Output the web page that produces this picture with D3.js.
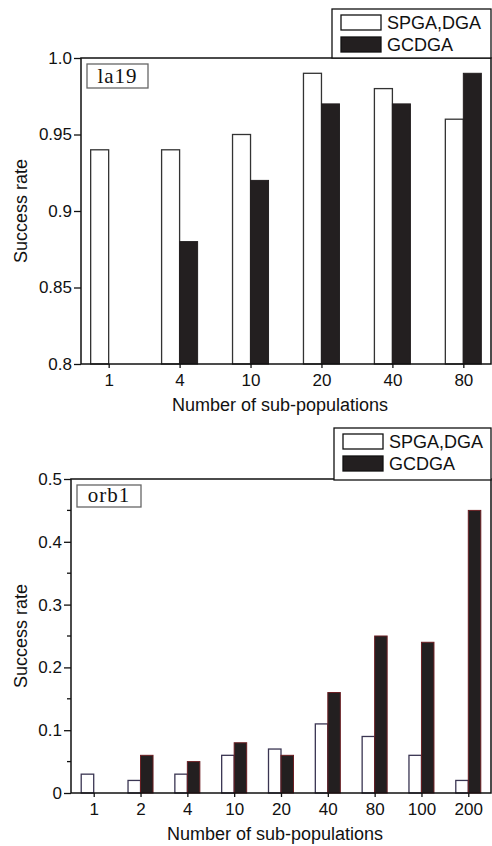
<!DOCTYPE html>
<html>
<head>
<meta charset="utf-8">
<script src="https://cdn.jsdelivr.net/npm/d3@7"></script>
<style>
  body { margin: 0; background: #fff; }
  svg text { font-family: "Liberation Sans", Arial, sans-serif; fill: #111; }
  svg text.tag { font-family: "Liberation Serif", "Times New Roman", serif; }
</style>
</head>
<body>
<div id="chart"></div>
<script>
// Two success-rate bar charts (la19, orb1)
const SERIES = ["SPGA,DGA", "GCDGA"];

const la19Cats = ["1", "4", "10", "20", "40", "80"];
const la19Spga = [0.94, 0.94, 0.95, 0.99, 0.98, 0.96];
const la19Gcdga = [null, 0.88, 0.92, 0.97, 0.97, 0.99];
const la19Ticks = [0.8, 0.85, 0.9, 0.95, 1.0];
const la19TickLabels = ["0.8", "0.85", "0.9", "0.95", "1.0"];

const orb1Cats = ["1", "2", "4", "10", "20", "40", "80", "100", "200"];
const orb1Spga = [0.03, 0.02, 0.03, 0.06, 0.07, 0.11, 0.09, 0.06, 0.02];
const orb1Gcdga = [null, 0.06, 0.05, 0.08, 0.06, 0.16, 0.25, 0.24, 0.45];
const orb1Ticks = [0, 0.1, 0.2, 0.3, 0.4, 0.5];
const orb1TickLabels = ["0", "0.1", "0.2", "0.3", "0.4", "0.5"];
const orb1Minor = [0.05, 0.15, 0.25, 0.35, 0.45];

const W = 492, H = 846;
const svg = d3.select("#chart").append("svg").attr("width", W).attr("height", H);

function panel(o) {
  const g = svg.append("g");
  const x = d3.scalePoint().domain(o.cats).range([o.left, o.right]).padding(o.pad);
  const y = d3.scaleLinear().domain(o.domain).range([o.bottom, o.top]);
  const bw = o.barW;

  // bars
  g.selectAll(".a").data(o.cats.map((c, i) => ({ c, v: o.a[i] })).filter(d => d.v != null))
    .join("rect")
    .attr("x", d => x(d.c) - bw).attr("y", d => y(d.v))
    .attr("width", bw).attr("height", d => y(o.domain[0]) - y(d.v))
    .attr("fill", "#fff").attr("stroke", o.aStroke).attr("stroke-width", 1.3);
  g.selectAll(".b").data(o.cats.map((c, i) => ({ c, v: o.b[i] })).filter(d => d.v != null))
    .join("rect")
    .attr("x", d => x(d.c)).attr("y", d => y(d.v))
    .attr("width", bw).attr("height", d => y(o.domain[0]) - y(d.v))
    .attr("fill", "#231f20").attr("stroke", o.bStroke).attr("stroke-width", 1);

  // frame
  g.append("rect").attr("x", o.left).attr("y", o.top)
    .attr("width", o.right - o.left).attr("height", o.bottom - o.top)
    .attr("fill", "none").attr("stroke", "#111").attr("stroke-width", 1.5);

  // y axis
  const ya = g.append("g").attr("transform", `translate(${o.left},0)`)
    .call(d3.axisLeft(y).tickValues(o.ticks).tickSize(7).tickPadding(2)
      .tickFormat((d, i) => o.tickLabels[i]));
  ya.select(".domain").remove();
  ya.selectAll("line").attr("stroke", "#111").attr("stroke-width", 1.3);
  ya.selectAll("text").attr("font-size", 17).attr("fill", "#111");
  if (o.minor) {
    g.selectAll(".minor").data(o.minor).join("line")
      .attr("x1", o.left - 4).attr("x2", o.left).attr("y1", d => y(d)).attr("y2", d => y(d))
      .attr("stroke", "#111").attr("stroke-width", 1.3);
  }

  // x axis
  const xa = g.append("g").attr("transform", `translate(0,${o.bottom})`)
    .call(d3.axisBottom(x).tickSize(4).tickPadding(o.xPad));
  xa.select(".domain").remove();
  xa.selectAll("line").attr("stroke", "#111").attr("stroke-width", 1.3);
  xa.selectAll("text").attr("font-size", 17).attr("fill", "#111");

  g.append("text").attr("x", (o.left + o.right) / 2 - 6).attr("y", o.bottom + 47)
    .attr("text-anchor", "middle").attr("font-size", 18).text("Number of sub-populations");
  g.append("text").attr("transform", `translate(27,${(o.top + o.bottom) / 2}) rotate(-90)`)
    .attr("text-anchor", "middle").attr("font-size", 18).text("Success rate");

  // tag box
  g.append("rect").attr("x", o.tag.x).attr("y", o.tag.y).attr("width", o.tag.w).attr("height", o.tag.h)
    .attr("fill", "#fff").attr("stroke", "#666").attr("stroke-width", 1.3);
  g.append("text").attr("class", "tag").attr("x", o.tag.x + o.tag.w / 2).attr("y", o.tag.y + o.tag.h - 5)
    .attr("text-anchor", "middle").attr("font-size", 21).attr("letter-spacing", 1).text(o.tag.text);

  // legend
  const L = o.legend;
  g.append("rect").attr("x", L.x).attr("y", L.y).attr("width", 491 - L.x).attr("height", L.h)
    .attr("fill", "#fff").attr("stroke", "#111").attr("stroke-width", 1.3);
  SERIES.forEach((s, i) => {
    const yy = L.y + 6 + i * 22;
    g.append("rect").attr("x", L.x + 9).attr("y", yy).attr("width", 40).attr("height", 15)
      .attr("fill", i ? "#231f20" : "#fff").attr("stroke", "#111").attr("stroke-width", 1.3);
    g.append("text").attr("x", L.x + 55).attr("y", yy + 14).attr("font-size", 18).text(s);
  });
}

panel({
  cats: la19Cats, a: la19Spga, b: la19Gcdga, domain: [0.8, 1.0],
  ticks: la19Ticks, tickLabels: la19TickLabels,
  left: 81, right: 491, top: 58, bottom: 364, pad: 0.39, barW: 18,
  aStroke: "#333", bStroke: "#231f20", xPad: 6,
  tag: { x: 87, y: 64, w: 61, h: 24, text: "la19" },
  legend: { x: 332, y: 9, h: 49 }
});

panel({
  cats: orb1Cats, a: orb1Spga, b: orb1Gcdga, domain: [0, 0.5],
  ticks: orb1Ticks, tickLabels: orb1TickLabels, minor: orb1Minor,
  left: 71, right: 491, top: 479, bottom: 793, pad: 0.485, barW: 12.5,
  aStroke: "#3a3552", bStroke: "#6b1e22", xPad: 6,
  tag: { x: 77, y: 485, w: 64, h: 22, text: "orb1" },
  legend: { x: 334, y: 428, h: 52 }
});
</script>
</body>
</html>
